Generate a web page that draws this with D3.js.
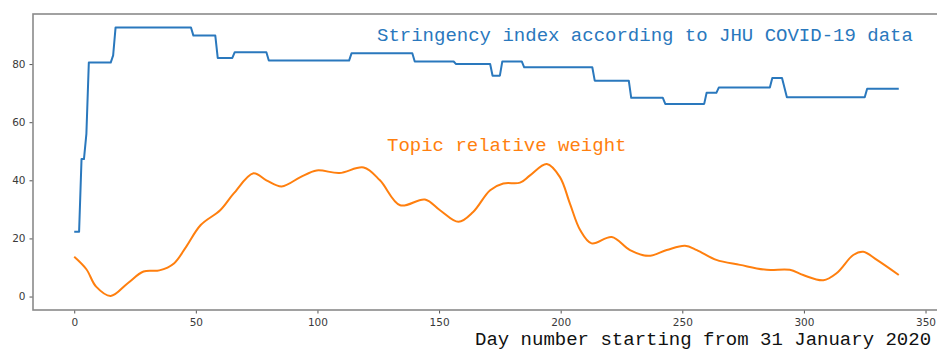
<!DOCTYPE html>
<html>
<head>
<meta charset="utf-8">
<script src="https://cdn.jsdelivr.net/npm/d3@7"></script>
<style>
  html, body { margin: 0; padding: 0; background: #fff; }
  svg { display: block; }
</style>
</head>
<body>
<svg id="chart" width="937" height="350"></svg>
<script>
// Stringency index (JHU COVID-19 data): [day, value] at each change of level
const stringencyDays   = [0, 2, 3, 4, 5, 6, 15, 16, 17, 48, 49, 58, 59, 65, 66, 79, 80, 113, 114, 139, 140, 156, 157, 171, 172, 175, 176, 184, 185, 213, 214, 228, 229, 242, 243, 259, 260, 264, 265, 286, 287, 291, 293, 325, 326, 339];
const stringencyValues = [22.3, 22.3, 47.3, 47.3, 56, 80.5, 80.5, 83, 92.6, 92.6, 89.8, 89.8, 82.1, 82.1, 84.1, 84.1, 81.2, 81.2, 83.7, 83.7, 80.9, 80.9, 80, 80, 76, 76, 80.9, 80.9, 78.9, 78.9, 74.3, 74.3, 68.4, 68.4, 66.3, 66.3, 70.1, 70.1, 71.9, 71.9, 75.2, 75.2, 68.6, 68.6, 71.5, 71.5];

// Topic relative weight (smoothed)
const topicDays   = [0, 5, 9, 15, 22, 28.5, 35, 41, 46, 52, 60, 65.5, 73.7, 79, 85.3, 93, 99.7, 109, 119, 125.7, 134, 144.2, 150.4, 158, 164, 171, 176.4, 183.3, 187.4, 194.3, 199.7, 203.8, 208, 212.7, 221, 228.5, 236, 243.6, 251.1, 256, 264, 273.7, 284.7, 294.2, 299.7, 308, 313.4, 320.3, 324.4, 330, 339];
const topicValues = [13.7, 9.4, 3.4, 0.2, 4.6, 8.6, 9.0, 11.4, 17.1, 24.6, 29.7, 35.4, 42.4, 40, 37.9, 41.1, 43.4, 42.5, 44.4, 40, 31.4, 33.4, 29.7, 25.7, 29.1, 36.6, 38.9, 39.2, 41.7, 45.6, 41.1, 32, 22.9, 18.3, 20.5, 16, 14, 16, 17.5, 16, 12.6, 10.9, 9.2, 9.2, 7.4, 5.6, 8, 14.3, 15.4, 12.6, 7.4];

const xTicks = [0, 50, 100, 150, 200, 250, 300, 350];
const yTicks = [0, 20, 40, 60, 80];

const seriesLabels = ["Stringency index according to JHU COVID-19 data", "Topic relative weight"];
const xAxisTitle = "Day number starting from 31 January 2020";

const blue = "#2a78bd", orange = "#ff7f0e";
const mono = "'Liberation Mono', 'Courier New', monospace";

const svg = d3.select("#chart");
const plot = { left: 33, right: 940, top: 14, bottom: 310 };

// Domains padded 5% beyond the data, as the axes show
const xMax = d3.max(stringencyDays), xPad = xMax * 0.05;
const yMin = 0, yMax = d3.max(stringencyValues), yPad = (yMax - yMin) * 0.05;

const x = d3.scaleLinear().domain([-xPad, xMax + xPad]).range([plot.left, plot.right]);
const y = d3.scaleLinear().domain([yMin - yPad, yMax + yPad]).range([plot.bottom, plot.top]);

// Axes
const axisColor = "#8a8a8a";
const xAxis = svg.append("g")
  .attr("transform", `translate(0,${plot.bottom})`)
  .call(d3.axisBottom(x).tickValues(xTicks).tickSize(3.5).tickPadding(5).tickFormat(d3.format("d")));
const yAxis = svg.append("g")
  .attr("transform", `translate(${plot.left},0)`)
  .call(d3.axisLeft(y).tickValues(yTicks).tickSize(3.5).tickPadding(4).tickFormat(d3.format("d")));
[xAxis, yAxis].forEach(g => {
  g.select(".domain").remove();
  g.selectAll(".tick line").attr("stroke", "#555").attr("stroke-width", 1);
  g.selectAll(".tick text")
    .attr("fill", "#3a3a3a")
    .style("font-family", "'DejaVu Sans', sans-serif")
    .style("font-size", "10.5px");
});

// Frame
svg.append("rect")
  .attr("x", plot.left).attr("y", plot.top)
  .attr("width", plot.right - plot.left).attr("height", plot.bottom - plot.top)
  .attr("fill", "none").attr("stroke", axisColor).attr("stroke-width", 1.6);

// Lines
const stringency = stringencyDays.map((d, i) => [d, stringencyValues[i]]);
const topic = topicDays.map((d, i) => [d, topicValues[i]]);

const lineLinear = d3.line().x(d => x(d[0])).y(d => y(d[1]));
const lineSmooth = d3.line().x(d => x(d[0])).y(d => y(d[1])).curve(d3.curveCatmullRom.alpha(0.5));

svg.append("path").datum(stringency)
  .attr("d", lineLinear)
  .attr("fill", "none").attr("stroke", blue).attr("stroke-width", 2)
  .attr("stroke-linejoin", "round");

svg.append("path").datum(topic)
  .attr("d", lineSmooth)
  .attr("fill", "none").attr("stroke", orange).attr("stroke-width", 2)
  .attr("stroke-linejoin", "round");

// Series annotations
svg.append("text")
  .attr("x", 377).attr("y", 40.5)
  .attr("fill", blue)
  .style("font-family", mono).style("font-size", "19px")
  .text(seriesLabels[0]);

svg.append("text")
  .attr("x", 387).attr("y", 151)
  .attr("fill", orange)
  .style("font-family", mono).style("font-size", "19px")
  .text(seriesLabels[1]);

// X axis title
svg.append("text")
  .attr("x", 475).attr("y", 345)
  .attr("fill", "#111")
  .style("font-family", mono).style("font-size", "19px")
  .text(xAxisTitle);
</script>
</body>
</html>
